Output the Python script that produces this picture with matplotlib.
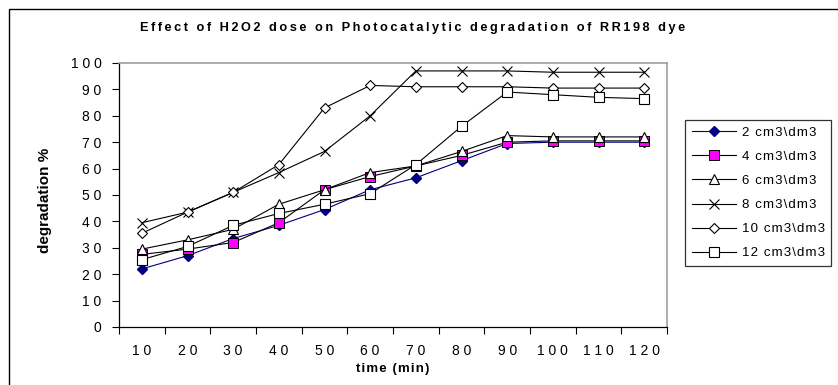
import matplotlib
matplotlib.use("Agg")
import matplotlib.pyplot as plt
from matplotlib.patches import Rectangle
import numpy as np

plt.rcParams['font.family'] = ['Liberation Sans', 'DejaVu Sans']

times = [10, 20, 30, 40, 50, 60, 70, 80, 90, 100, 110, 120]
dose_labels = ["2 cm3\\dm3", "4 cm3\\dm3", "6 cm3\\dm3",
               "8 cm3\\dm3", "10 cm3\\dm3", "12 cm3\\dm3"]
dose_2 = [22, 27, 33.5, 38.5, 44.5, 52, 56.5, 63, 69.5, 70, 70, 70]
dose_4 = [27.5, 29.5, 32, 39.5, 52, 57, 61, 65, 70, 70.5, 70.5, 70.5]
dose_6 = [29.5, 33, 37, 46.5, 52, 58.5, 61, 66.5, 72.5, 72, 72, 72]
dose_8 = [39.5, 43.5, 51, 58.5, 66.5, 80, 97, 97, 97, 96.5, 96.5, 96.5]
dose_10 = [35.5, 43.5, 51, 61.5, 83, 91.5, 91, 91, 91, 90.5, 90.5, 90.5]
dose_12 = [25.5, 30.5, 38.5, 43, 46.5, 50.5, 61.5, 76, 89, 88, 87, 86.5]
y_ticks = [0, 10, 20, 30, 40, 50, 60, 70, 80, 90, 100]
title = "Effect of H2O2 dose on Photocatalytic degradation of RR198 dye"

W, H = 838, 385
fig = plt.figure(figsize=(W / 100, H / 100), dpi=100)

# axes in pixel geometry
L, R, T, B = 119, 667, 63, 327
ax = fig.add_axes([L / W, 1 - B / H, (R - L) / W, (B - T) / H])


def spaced(s, gap="\u2009\u200a"):
    """Widen character tracking the way the chart's text is set."""
    return gap.join(str(s))


pos = np.arange(len(times))
styles = [
    dict(color='#000080', marker='D', ms=5.5, mfc='#000080', mec='#000080'),
    dict(color='black', marker='s', ms=6.5, mfc='#ff00ff', mec='black', mew=0.7),
    dict(color='black', marker='^', ms=7.5, mfc='white', mec='black', mew=0.8),
    dict(color='black', marker='x', ms=7.5, mec='black', mew=0.8),
    dict(color='black', marker='D', ms=5.5, mfc='white', mec='black', mew=0.8),
    dict(color='black', marker='s', ms=7, mfc='white', mec='black', mew=0.8),
]
series = [dose_2, dose_4, dose_6, dose_8, dose_10, dose_12]
for vals, lab, st in zip(series, dose_labels, styles):
    ax.plot(pos, vals, lw=0.8, label=spaced(lab, "\u200a"), **st)

ax.set_xlim(-0.5, len(times) - 0.5)
ax.set_ylim(0, 100)

ax.set_yticks(y_ticks)
ax.set_yticklabels([spaced(v) for v in y_ticks], fontsize=10)
ax.set_xticks(np.arange(-0.5, len(times), 1.0))
ax.set_xticklabels([])
ax.set_xticks(pos, minor=True)
ax.set_xticklabels([spaced(t) for t in times], minor=True, fontsize=10)
ax.tick_params(axis='x', which='minor', length=0, pad=12)
ax.tick_params(axis='x', which='major', length=5, width=0.8, direction='out')
ax.tick_params(axis='y', length=5, width=0.8, direction='out', pad=7.5)

for s in ['left', 'bottom']:
    ax.spines[s].set_color('black')
    ax.spines[s].set_linewidth(0.9)
for s in ['top', 'right']:
    ax.spines[s].set_color('#a0a0a0')
    ax.spines[s].set_linewidth(1.2)

fig.text(413 / W, 1 - 28 / H, spaced(title, "\u2009"),
         ha='center', va='center', fontsize=9.2, fontweight='bold')
fig.text(393 / W, 1 - 369 / H, spaced("time (min)", "\u200a"),
         ha='center', va='center', fontsize=9.5, fontweight='bold')
fig.text(45 / W, 1 - 200 / H, "degradation %", ha='center', va='center',
         rotation=90, fontsize=11, fontweight='bold')

leg = ax.legend(loc='upper left', bbox_to_anchor=(685 / W, 1 - 120 / H),
                bbox_transform=fig.transFigure, fontsize=9.5, frameon=True,
                fancybox=False, edgecolor='black', borderpad=0.5,
                labelspacing=0.9, handlelength=3.4, handletextpad=0.4,
                borderaxespad=0)
leg.get_frame().set_linewidth(0.9)

# outer chart frame
fig.patches.append(Rectangle((9 / W, -0.1), 1.2, 1 - 9 / H + 0.1,
                             transform=fig.transFigure, fill=False,
                             edgecolor='black', lw=1.0))

fig.savefig("out.png", dpi=100)
